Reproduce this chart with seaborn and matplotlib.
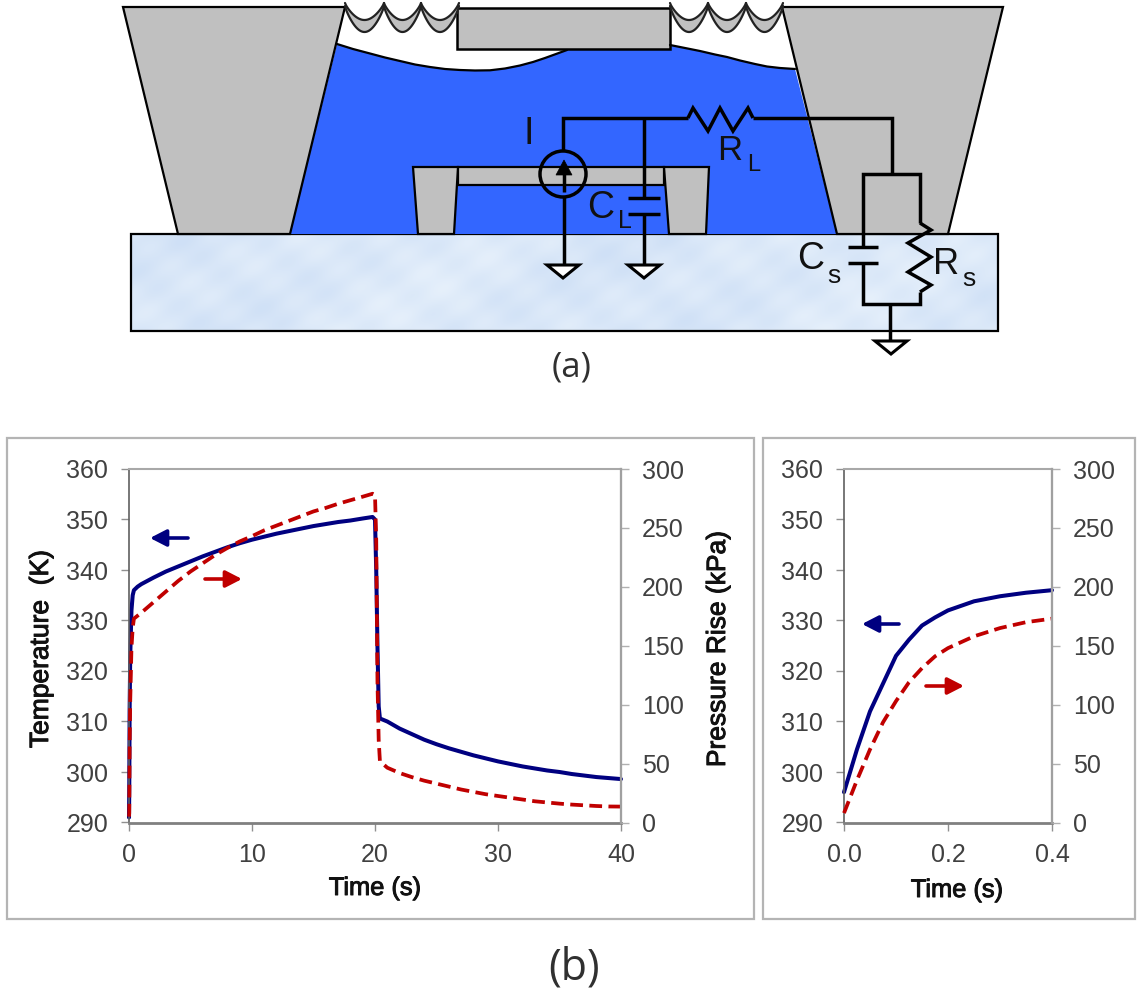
import numpy as np
import pandas as pd
import matplotlib
matplotlib.use('Agg')
import matplotlib.pyplot as plt
import matplotlib.patheffects as pe
from matplotlib.colors import LinearSegmentedColormap
from matplotlib.patches import Polygon, Rectangle, Circle
import seaborn as sns

# ---------------------------------------------------------
# data
# ---------------------------------------------------------
time_long = [0, 0.02, 0.05, 0.1, 0.2, 0.3, 0.4, 0.7, 1, 2, 3, 4, 5, 6, 7, 8, 9, 10, 11, 12, 13, 14, 15, 16, 17, 18, 19, 19.8,
             20, 20.1, 20.2, 20.3, 20.4, 21, 22, 23, 24, 25, 26, 27, 28, 29, 30, 31, 32, 33, 34, 35, 36, 37, 38, 39, 40]
temp_long = [291, 296, 312, 323, 332, 335, 336, 336.7, 337.2, 338.5, 339.7, 340.7, 341.7, 342.7, 343.6, 344.5, 345.3, 346,
             346.6, 347.2, 347.7, 348.2, 348.7, 349.1, 349.5, 349.8, 350.2, 350.5,
             350, 340, 325, 313, 310.6, 310, 308.6, 307.5, 306.4, 305.5, 304.7, 304, 303.3, 302.7, 302.1, 301.6, 301.1,
             300.7, 300.3, 300, 299.6, 299.3, 299, 298.8, 298.6]
press_long = [5, 8, 62, 103, 148, 165, 173, 175.5, 178, 187, 196, 205, 213, 220, 227, 233, 238.5, 243, 248, 252, 256, 260,
              264, 267, 270.5, 273.5, 276.5, 279,
              278, 240, 120, 70, 52, 46.5, 42, 38.5, 35.5, 33, 30.5, 28, 26, 24, 22.5, 21, 19.5, 18, 17, 16, 15.2, 14.6,
              14, 13.6, 13.5]

time_short = [0, 0.025, 0.05, 0.075, 0.1, 0.125, 0.15, 0.175, 0.2, 0.25, 0.3, 0.35, 0.4]
temp_short = [296, 304.5, 312, 317.5, 323, 326.2, 329, 330.6, 332, 333.8, 334.8, 335.5, 336]
press_short = [8, 36, 62, 85, 103, 119, 131, 141, 148, 158, 165, 170, 173]

temp_ticks = [290, 300, 310, 320, 330, 340, 350, 360]
press_ticks = [0, 50, 100, 150, 200, 250, 300]

# schematic outlines, in image pixels
left_block = [(123, 7), (345, 7), (290, 234), (178, 234)]
right_block = [(782, 7), (1003, 7), (948, 234), (837, 234)]
left_post = [(413, 167), (458, 167), (454, 234), (418, 234)]
right_post = [(664, 167), (709, 167), (706, 234), (669, 234)]
surface_left = [(337, 44), (353, 49), (370, 53.5), (385, 57.5), (400, 61), (415, 64.5), (430, 67), (445, 69), (460, 70),
                (475, 70.5), (490, 70.3), (505, 68.5), (520, 65.5), (533, 62), (545, 58), (556, 54), (567, 50)]
surface_right = [(670, 45), (685, 48), (700, 51), (715, 54.5), (727, 57), (740, 60.5), (755, 64), (767, 66.5), (780, 68), (795, 69)]
res_load = [(688, 118), (693, 108), (708, 131), (720, 108), (733, 131), (748, 108), (753, 118)]
res_sub = [(920, 223), (931, 230), (908, 243), (931, 257), (908, 272), (931, 285), (920, 292)]
wires = [
    [(563, 151), (563, 118), (688, 118)],
    [(753, 118), (892, 118), (892, 174)],
    [(863, 247), (863, 174), (920, 174), (920, 223)],
    [(863, 263), (863, 304), (920, 304), (920, 292)],
    [(890, 304), (890, 341)],
    [(644, 118), (644, 198)],
    [(644, 214), (644, 265)],
    [(564, 197), (564, 265)],
    [(564, 192), (564, 172)],
    [(628, 198), (660, 198)],
    [(628, 214), (660, 214)],
    [(848, 247), (878, 247)],
    [(848, 263), (878, 263)],
]
grounds = [(563, 265), (644, 265), (891, 341)]
spring_edges = [[345, 384, 421, 459], [670, 708, 746, 783]]

sns.set_style('white')
plt.rcParams['font.family'] = ['Liberation Sans', 'DejaVu Sans']

NAVY = '#000080'
RED = '#c00000'
GRAY = '#c0c0c0'
BLUE = '#3366ff'
TXT = '#404040'
W, H = 1143, 1000

fig = plt.figure(figsize=(W / 100, H / 100), dpi=100, facecolor='white')


def panel(x0, x1, xlim, xticks, xlabels, df):
    ax = fig.add_axes([x0 / W, (H - 822.5) / H, (x1 - x0) / W, 353.5 / H])
    sns.lineplot(data=df, x='t', y='temp', ax=ax, color=NAVY, lw=2.9, sort=False, estimator=None, legend=False, clip_on=False)
    ax.set_xlim(*xlim)
    ax.set_ylim(290, 360)
    ax.set_xticks(xticks, xlabels)
    ax.set_yticks(temp_ticks)
    ax.set_xlabel('')
    ax.set_ylabel('')
    ax.tick_params(axis='both', which='major', left=True, bottom=True, length=6, width=1,
                   color='#909090', labelcolor=TXT, labelsize=18)
    ax.tick_params(axis='x', pad=9)
    ax.tick_params(axis='y', pad=9)
    ax2 = ax.twinx()
    sns.lineplot(data=df, x='t', y='press', ax=ax2, color=RED, lw=2.7, sort=False, estimator=None, legend=False, clip_on=False)
    ax2.lines[0].set_dashes((3.4, 1.7))
    ax2.set_ylim(0, 300)
    ax2.set_yticks(press_ticks)
    ax2.set_ylabel('')
    ax2.tick_params(axis='y', right=True, length=6, width=1, color='#b0b0b0', labelcolor=TXT, labelsize=18, pad=9)
    for name, sp in ax.spines.items():
        sp.set_visible(True)
        sp.set_color({'left': '#606060', 'bottom': '#808080', 'top': '#a8a8a8', 'right': '#a8a8a8'}[name])
        sp.set_linewidth({'left': 1.2, 'bottom': 2, 'top': 1.5, 'right': 1.5}[name])
    for name, sp in ax2.spines.items():
        sp.set_visible(name == 'right')
        sp.set_color('#a0a0a0')
        sp.set_linewidth(1.6)
    return ax


long_df = pd.DataFrame({'t': time_long, 'temp': temp_long, 'press': press_long})
short_df = pd.DataFrame({'t': time_short, 'temp': temp_short, 'press': press_short})
panel(129, 621, (0, 40), [0, 10, 20, 30, 40], ['0', '10', '20', '30', '40'], long_df)
panel(844, 1052, (0, 0.4), [0, 0.2, 0.4], ['0.0', '0.2', '0.4'], short_df)

# ---------------------------------------------------------
# overlay in image pixels: schematic, frames, arrows, texts
# ---------------------------------------------------------
ov = fig.add_axes([0, 0, 1, 1], zorder=5)
ov.axis('off')
ov.patch.set_alpha(0)

for x, w in [(7, 747), (763, 372)]:
    ov.add_patch(Rectangle((x, 438), w, 481, fc='none', ec='#b4b4b4', lw=1.6))

# mottled substrate, only a decoration
gx_, gy_ = np.meshgrid(np.arange(131, 998, 3), np.arange(234, 331, 3))
mottle = (np.sin(gx_ / 37.0 + gy_ / 19.0) + np.sin(gx_ / 13.0 - gy_ / 11.0) + np.sin(gx_ / 71.0 + 2.0)
          + 0.6 * np.sin(gx_ / 7.0 + gy_ / 5.0))
ice = LinearSegmentedColormap.from_list('ice', ['#cfe0f6', '#e6f0fb'])
ov.imshow(mottle, cmap=ice, extent=(131, 998, 331, 234), aspect='auto', interpolation='bilinear')
ov.set_xlim(0, W)
ov.set_ylim(H, 0)
ov.add_patch(Rectangle((131, 234), 867, 97, fc='none', ec='black', lw=1.6))

fluid = surface_left + [(670, 49)] + surface_right + [(837, 234), (290, 234), (337, 44)]
ov.add_patch(Polygon(fluid, fc=BLUE, ec='none'))
for outline in [surface_left, surface_right]:
    ov.plot(*zip(*outline), color='black', lw=1.6)
ov.add_patch(Rectangle((458, 167), 206, 18, fc=GRAY, ec='black', lw=1.6))
for poly in [left_block, right_block, left_post, right_post]:
    ov.add_patch(Polygon(poly, fc=GRAY, ec='black', lw=1.6))
ov.add_patch(Rectangle((457, 8), 213, 41, fc=GRAY, ec='black', lw=1.8))

s = np.linspace(0, 1, 40)
for edges in spring_edges:
    for a, b in zip(edges[:-1], edges[1:]):
        xs = a + (b - a) * s
        upper = 3 + 17 * np.sin(np.pi * s) ** 0.8
        lower = 6 + 26 * np.sin(np.pi * s) ** 0.8
        ov.fill_between(xs, upper, lower, color=GRAY, lw=0)
        ov.plot(xs, upper, color='#222222', lw=1.6)
        ov.plot(xs, lower, color='#222222', lw=1.6)

for path in wires + [res_load, res_sub]:
    ov.plot(*zip(*path), color='black', lw=2.5, solid_joinstyle='miter', solid_capstyle='butt')
ov.add_patch(Circle((563, 174), 23, fc='none', ec='black', lw=2.5))
ov.add_patch(Polygon([(564, 160), (556, 175), (572, 175)], fc='black', ec='black', lw=0.5))
for gx, gy in grounds:
    ov.add_patch(Polygon([(gx - 16, gy), (gx + 16, gy), (gx, gy + 13)], fc='white', ec='black', lw=2.2))

# curve direction arrows
for x0, x1, y, col in [(188, 150, 538, NAVY), (205, 242, 579, RED), (899, 862, 624, NAVY), (926, 964, 686, RED)]:
    ov.annotate('', xy=(x1, y), xytext=(x0, y),
                arrowprops=dict(arrowstyle='-|>,head_length=0.7,head_width=0.36', mutation_scale=14,
                                color=col, lw=2.6, shrinkA=0, shrinkB=0))

# circuit labels
for txt, x, y, size in [('I', 529, 134, 27), ('C', 601, 208, 27), ('L', 625, 221, 18), ('R', 730, 151, 25),
                        ('L', 754, 165, 17), ('C', 811, 259, 27), ('s', 834, 276, 19), ('R', 946, 264, 26),
                        ('s', 969, 279, 19)]:
    ov.text(x, y, txt, fontsize=size, color='#111111', ha='center', va='center')

ov.text(572, 368, '(a)', fontsize=25, family='Open Sans', color='#303030', ha='center', va='center')
ov.text(574, 968, '(b)', fontsize=31, family='Open Sans', color='#303030', ha='center', va='center')

# labels look semi-bold in the reference, so a thin stroke over the regular weight
heavy = [pe.withStroke(linewidth=0.7, foreground='#111111')]
label = dict(fontsize=19, color='#111111', ha='center', va='center', path_effects=heavy)
ov.text(41, 649, 'Temperature  (K)', rotation=90, **label)
ov.text(718, 649, 'Pressure Rise (kPa)', rotation=90, **label)
label['fontsize'] = 18.3
ov.text(375, 888, 'Time (s)', **label)
ov.text(957, 890, 'Time (s)', **label)

fig.savefig('out.png', dpi=100, facecolor='white')
